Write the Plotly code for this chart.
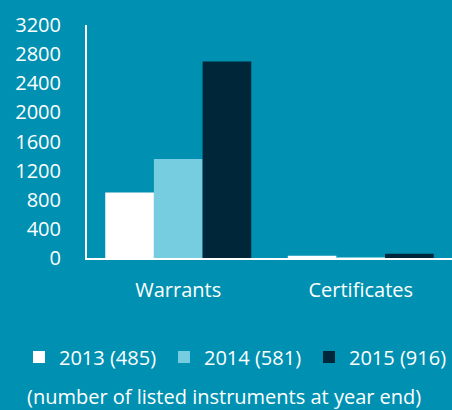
import plotly.graph_objects as go

categories = ["Warrants", "Certificates"]
series_names = ["2013 (485)", "2014 (581)", "2015 (916)"]
values_2013 = [900, 30]
values_2014 = [1360, 8]
values_2015 = [2700, 60]
series_values = [values_2013, values_2014, values_2015]
colors = ["#FFFFFF", "#75CDDF", "#00263A"]
y_ticks = [0, 400, 800, 1200, 1600, 2000, 2400, 2800, 3200]
caption = "(number of listed instruments at year end)"

BG = "#0091B2"
FONT = "Open Sans"
W, H = 452, 410
FS = 20

legend_ids = ["legend", "legend2", "legend3"]
legend_left_px = [19, 164, 309]

fig = go.Figure()
for name, vals, col, lg in zip(series_names, series_values, colors, legend_ids):
    fig.add_trace(go.Bar(x=categories, y=vals, name=name, legend=lg,
                         marker=dict(color=col, line=dict(width=0))))

legend_common = dict(orientation="h", xref="container", yref="container",
                     xanchor="left", y=1 - 357 / H, yanchor="middle",
                     font=dict(family=FONT, size=FS, color="white"),
                     bgcolor="rgba(0,0,0,0)", borderwidth=0, itemclick=False)
legends = {lg: dict(legend_common, x=px / W) for lg, px in zip(legend_ids, legend_left_px)}

fig.update_layout(
    width=W, height=H,
    paper_bgcolor=BG, plot_bgcolor=BG,
    margin=dict(l=87, r=0, t=25, b=152, autoexpand=False),
    barmode="group", bargap=0.2, bargroupgap=0,
    font=dict(family=FONT, size=FS, color="white"),
    showlegend=True,
    annotations=[dict(text=caption, xref="paper", yref="paper",
                      x=0.375, y=-0.595, xanchor="center", yanchor="middle",
                      showarrow=False, font=dict(size=FS, color="white"))],
    **legends,
)
fig.update_xaxes(showline=True, linecolor="white", linewidth=2, showgrid=False,
                 ticks="", ticklabelstandoff=13, tickfont=dict(size=FS))
fig.update_yaxes(range=[0, 3200], tickvals=y_ticks, showline=True, linecolor="white",
                 linewidth=2, showgrid=False, zeroline=False, ticks="",
                 ticklabelstandoff=20, tickfont=dict(size=FS))

fig.write_html("out.html", config={"displayModeBar": False},
               post_script="document.body.style.margin='0';document.body.style.overflow='hidden';")
